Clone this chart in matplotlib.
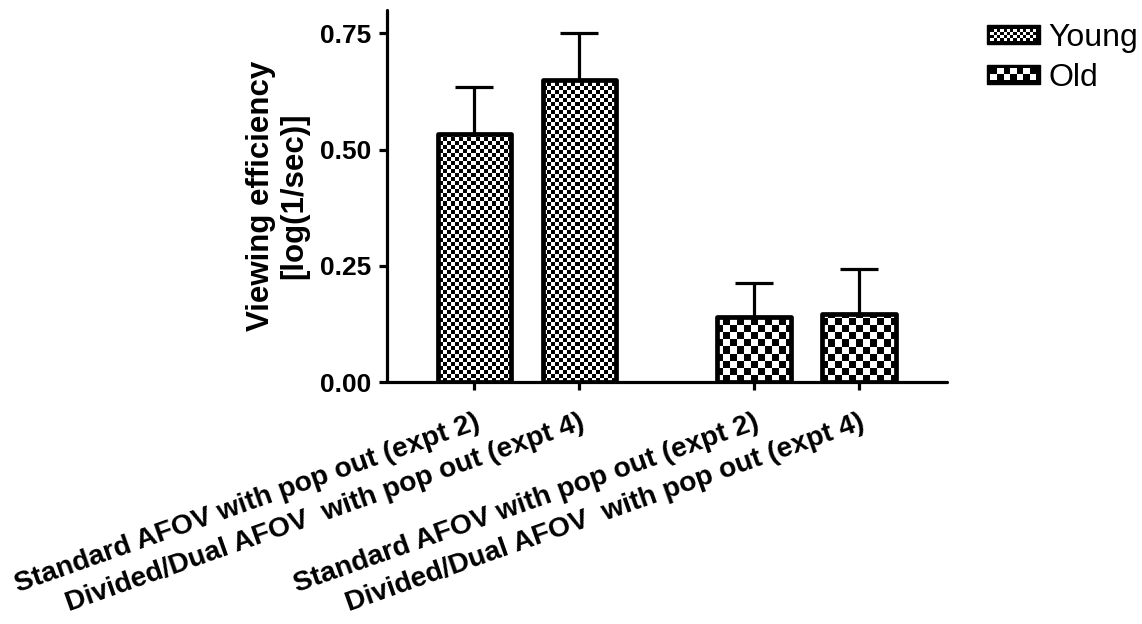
import numpy as np
import matplotlib.pyplot as plt
from matplotlib.legend_handler import HandlerBase
from matplotlib.patches import Rectangle, Patch

plt.rcParams['font.family'] = ['Liberation Sans', 'DejaVu Sans']

# data
categories = ["Standard AFOV with pop out (expt 2)",
              "Divided/Dual AFOV  with pop out (expt 4)",
              "Standard AFOV with pop out (expt 2)",
              "Divided/Dual AFOV  with pop out (expt 4)"]
groups = ["Young", "Young", "Old", "Old"]
means = [0.534, 0.649, 0.140, 0.147]
errors = [0.100, 0.101, 0.073, 0.097]
positions = [0.0, 1.0, 2.66, 3.66]
yticks = [0.0, 0.25, 0.50, 0.75]

# checker cell size in pixels for each group
cell_px = {"Young": 4, "Old": 7}

W, H = 1142, 624
fig = plt.figure(figsize=(W / 100, H / 100), dpi=100)
ax = fig.add_axes([387 / W, 1 - 382 / H, (947 - 387) / W, (382 - 10) / H])

xlim = (-0.833, 4.5)
ylim = (0.0, 0.80)
ax.set_xlim(*xlim)
ax.set_ylim(*ylim)

bars = ax.bar(positions, means, width=0.70, facecolor='none', edgecolor='black',
              linewidth=3.4, zorder=3)
for b in bars:
    b.set_joinstyle('round')

ax.errorbar(positions, means, yerr=[np.zeros(len(errors)), errors], fmt='none',
            ecolor='black', elinewidth=2.3, capsize=13.5, capthick=2.3, zorder=1)


def checker(cell):
    nx = int(round((947 - 387) / cell))
    ny = int(round((382 - 10) / cell))
    return (np.indices((ny, nx)).sum(axis=0) % 2).astype(float)


for b, g in zip(bars, groups):
    im = ax.imshow(checker(cell_px[g]), cmap='gray', vmin=0, vmax=1,
                   extent=(xlim[0], xlim[1], ylim[0], ylim[1]),
                   aspect='auto', interpolation='nearest', zorder=2)
    im.set_clip_path(b)

ax.set_xlim(*xlim)
ax.set_ylim(*ylim)

for s in ['top', 'right']:
    ax.spines[s].set_visible(False)
for s in ['left', 'bottom']:
    ax.spines[s].set_linewidth(2.3)
    ax.spines[s].set_capstyle('round')

ax.set_yticks(yticks)
ax.set_yticklabels([f"{v:.2f}" for v in yticks], fontsize=19, fontweight='bold')
ax.set_xticks(positions)
ax.set_xticklabels(categories, rotation=19.5, ha='right', va='top',
                   rotation_mode='anchor', fontsize=20.3, fontweight='bold')
ax.tick_params(axis='both', direction='out', length=6, width=2.3, pad=5)
ax.tick_params(axis='x', pad=14)

ax.set_ylabel("Viewing efficiency\n[log(1/sec)]", fontsize=22.5, fontweight='bold',
              labelpad=8, linespacing=1.15)


class CheckerHandler(HandlerBase):
    def __init__(self, rows, cols):
        super().__init__()
        self.rows = rows
        self.cols = cols

    def create_artists(self, legend, orig_handle, xdescent, ydescent, width,
                       height, fontsize, trans):
        x0, y0 = -xdescent, -ydescent
        arts = [Rectangle((x0, y0), width, height, facecolor='black',
                          edgecolor='black', transform=trans)]
        m = height * 0.18
        cw = (width - 2 * m) / self.cols
        ch = (height - 2 * m) / self.rows
        for r in range(self.rows):
            for c in range(self.cols):
                if (r + c) % 2 == 0:
                    arts.append(Rectangle((x0 + m + c * cw, y0 + m + r * ch), cw, ch,
                                          facecolor='white', edgecolor='none',
                                          transform=trans))
        return arts


h_young = Patch(facecolor='black', label='Young')
h_old = Patch(facecolor='black', label='Old')
fig.legend(handles=[h_young, h_old], labels=['Young', 'Old'],
           handler_map={h_young: CheckerHandler(4, 14), h_old: CheckerHandler(2, 7)},
           loc='upper left', bbox_to_anchor=(987 / W, 1 - 23 / H),
           frameon=False, fontsize=23, handlelength=1.65, handleheight=0.55,
           handletextpad=0.28, labelspacing=0.3, borderpad=0, borderaxespad=0)

fig.savefig("out.png", dpi=100)
